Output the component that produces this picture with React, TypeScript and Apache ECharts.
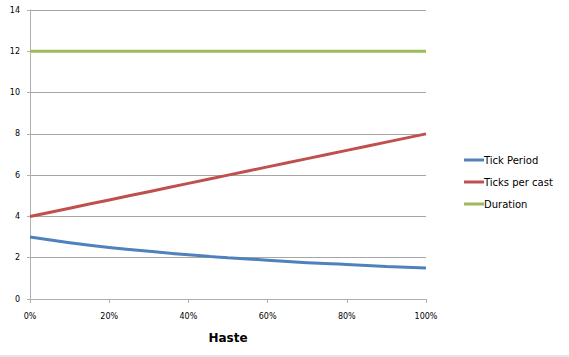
import React, { useEffect, useRef } from "react";
import * as echarts from "echarts";

const hasteValues = [0, 0.1, 0.2, 0.3, 0.4, 0.5, 0.6, 0.7, 0.8, 0.9, 1.0];
const tickPeriod = [3.0, 2.73, 2.5, 2.31, 2.14, 2.0, 1.88, 1.76, 1.67, 1.58, 1.5];
const ticksPerCast = [4.0, 4.4, 4.8, 5.2, 5.6, 6.0, 6.4, 6.8, 7.2, 7.6, 8.0];
const duration = [12, 12, 12, 12, 12, 12, 12, 12, 12, 12, 12];
const seriesNames = ["Tick Period", "Ticks per cast", "Duration"];
const seriesColors = ["#4F81BD", "#C0504D", "#9BBB59"];
const xAxisTitle = "Haste";

export default function App() {
  const ref = useRef<HTMLDivElement>(null);
  useEffect(() => {
    if (!ref.current) return;
    const chart = echarts.init(ref.current, undefined, { renderer: "svg" });
    const all = [tickPeriod, ticksPerCast, duration];
    const font = "DejaVu Sans";
    chart.setOption({
      animation: false,
      backgroundColor: "#ffffff",
      grid: { left: 30, right: 143, top: 10, bottom: 58, containLabel: false },
      legend: {
        orient: "vertical",
        left: 459,
        top: 150,
        itemWidth: 20,
        itemHeight: 3,
        itemGap: 12,
        icon: "rect",
        textStyle: { fontFamily: font, fontSize: 10, color: "#000", padding: [0, 0, 0, -5] },
        data: seriesNames,
      },
      xAxis: {
        type: "value",
        min: 0,
        max: 1,
        interval: 0.2,
        name: xAxisTitle,
        nameLocation: "middle",
        nameGap: 33,
        nameTextStyle: { fontFamily: font, fontSize: 12, fontWeight: "bold", color: "#000" },
        axisLine: { show: true, lineStyle: { color: "#b0b0b0", width: 1 } },
        axisTick: { show: true, length: 4, lineStyle: { color: "#b0b0b0" } },
        axisLabel: {
          fontFamily: font,
          fontSize: 8,
          color: "#000",
          margin: 13,
          formatter: (v: number) => Math.round(v * 100) + "%",
        },
        splitLine: { show: false },
      },
      yAxis: {
        type: "value",
        min: 0,
        max: 14,
        interval: 2,
        axisLine: { show: true, lineStyle: { color: "#b0b0b0", width: 1 } },
        axisTick: { show: true, length: 3, lineStyle: { color: "#b0b0b0" } },
        axisLabel: { fontFamily: font, fontSize: 8, color: "#000", margin: 10 },
        splitLine: { show: true, lineStyle: { color: "#a6a6a6", width: 1 } },
      },
      series: seriesNames.map((name, i) => ({
        name,
        type: "line",
        smooth: true,
        showSymbol: false,
        symbol: "none",
        color: seriesColors[i],
        lineStyle: { width: 3, color: seriesColors[i] },
        data: hasteValues.map((x, j) => [x, all[i][j]]),
      })),
      graphic: [
        {
          type: "line",
          shape: { x1: 0, y1: 356, x2: 569, y2: 356 },
          style: { stroke: "#c8c8c8", lineWidth: 1 },
        },
      ],
    });
    return () => chart.dispose();
  }, []);
  return <div ref={ref} style={{ width: 569, height: 357, position: "absolute", left: 0, top: 0 }} />;
}
